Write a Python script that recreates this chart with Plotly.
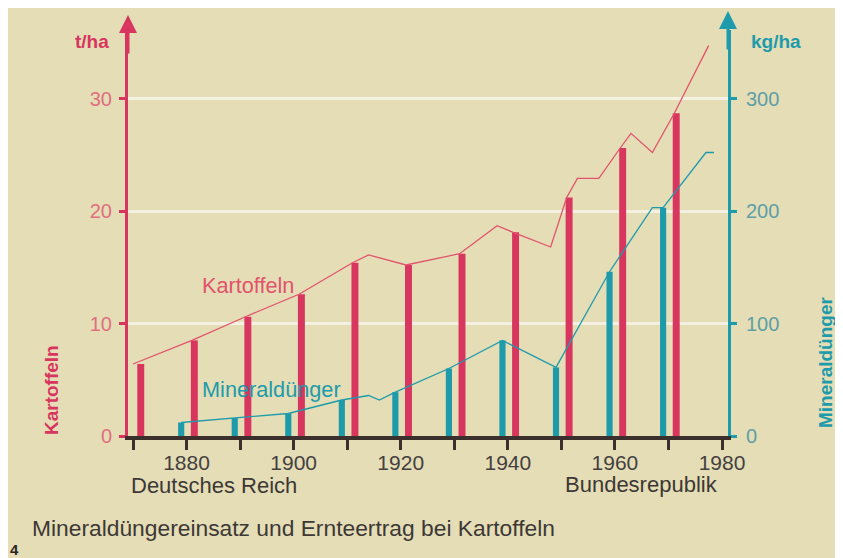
import plotly.graph_objects as go

# ---------------- data ----------------
potato_line_years = [1870, 1881, 1891, 1901, 1911, 1914, 1921, 1931, 1938, 1941,
                     1948, 1951, 1953, 1957, 1961, 1963, 1967, 1971, 1977.5]
potato_line_vals = [6.4, 8.5, 10.6, 12.6, 15.4, 16.1, 15.2, 16.2, 18.7, 18.1,
                    16.8, 21.2, 22.9, 22.9, 25.6, 26.9, 25.2, 28.6, 34.7]

potato_bar_years = [1871, 1881, 1891, 1901, 1911, 1921, 1931, 1941, 1951, 1961, 1971]
potato_bar_vals = [6.4, 8.5, 10.6, 12.6, 15.4, 15.2, 16.2, 18.1, 21.2, 25.6, 28.7]

fert_line_years = [1879, 1889, 1899, 1909, 1914, 1916, 1919, 1929, 1939, 1949,
                   1959, 1967, 1969, 1977, 1978.5]
fert_line_vals = [12, 16, 20, 32, 36, 32, 39, 60, 85, 61, 146, 203, 203, 252, 252]

fert_bar_years = [1879, 1889, 1899, 1909, 1919, 1929, 1939, 1949, 1959, 1969]
fert_bar_vals = [12, 16, 20, 32, 39, 60, 85, 61, 146, 203]

x_ticks = [1870, 1880, 1890, 1900, 1910, 1920, 1930, 1940, 1950, 1960, 1970, 1980]
x_tick_labels = ["", "1880", "", "1900", "", "1920", "", "1940", "", "1960", "", "1980"]
y_left_ticks = [0, 10, 20, 30]
y_right_ticks = [0, 100, 200, 300]

# ---------------- style ----------------
OFF = 8                      # page body margin (px)
W, H = 843 - OFF, 558 - OFF
BG = "#e4ddb6"
PINK = "#d8365f"
PINK_LINE = "#e2536c"
PINK_TXT = "#e06f82"
TEAL = "#1e9bab"
TEAL_TXT = "#5e9fa6"
DARK = "#3b302c"
TXT = "#3d3835"
FONT = "Liberation Sans"


def px(x):
    """screen pixel x -> paper fraction"""
    return (x - OFF) / W


def py(y):
    """screen pixel y -> paper fraction"""
    return 1 - (y - OFF) / H


AX_L, AX_R = 128, 728          # screen pixel positions of the two y axes
Y0_PX, YTOP_PX = 436, 30       # screen pixel of value 0 and top of plot area
PX_PER_YEAR = 5.3545
X1870_PX = 133
PX_PER_UNIT = 11.25

x_range = [1870 - (X1870_PX - AX_L) / PX_PER_YEAR, 1870 + (AX_R - X1870_PX) / PX_PER_YEAR]
y_top = (Y0_PX - YTOP_PX) / PX_PER_UNIT

fig = go.Figure()

fig.add_trace(go.Bar(x=potato_bar_years, y=potato_bar_vals, width=1.3, offset=-0.2,
                     marker=dict(color=PINK, line=dict(width=0)), yaxis="y",
                     showlegend=False, hoverinfo="skip"))
fig.add_trace(go.Bar(x=fert_bar_years, y=fert_bar_vals, width=1.15,
                     marker=dict(color=TEAL, line=dict(width=0)), yaxis="y2",
                     showlegend=False, hoverinfo="skip"))
fig.add_trace(go.Scatter(x=potato_line_years, y=potato_line_vals, mode="lines",
                         line=dict(color=PINK_LINE, width=1.3), yaxis="y",
                         showlegend=False, hoverinfo="skip"))
fig.add_trace(go.Scatter(x=fert_line_years, y=fert_line_vals, mode="lines",
                         line=dict(color=TEAL, width=1.3), yaxis="y2",
                         showlegend=False, hoverinfo="skip"))

dom_x = [px(AX_L), px(AX_R)]
dom_y = [py(Y0_PX), py(YTOP_PX)]

fig.update_layout(
    template="none",
    width=W, height=H, autosize=False,
    margin=dict(l=0, r=0, t=0, b=0, pad=0),
    paper_bgcolor=BG, plot_bgcolor="rgba(0,0,0,0)",
    barmode="overlay",
    font=dict(family=FONT),
    xaxis=dict(domain=dom_x, range=x_range, tickmode="array", tickvals=x_ticks,
               ticktext=x_tick_labels, ticks="outside", ticklen=10, tickwidth=3,
               tickcolor=DARK, showline=True, linecolor=DARK, linewidth=4,
               showgrid=False, zeroline=False, ticklabelstandoff=-5, automargin=False,
               tickfont=dict(size=21, color="#454040"), fixedrange=True),
    yaxis=dict(domain=dom_y, range=[0, y_top], tickmode="array", tickvals=y_left_ticks,
               ticks="outside", ticklen=6, tickwidth=3, tickcolor=PINK,
               showline=True, linecolor=PINK, linewidth=3, automargin=False,
               showgrid=True, gridcolor="#f4f0e2", gridwidth=2.5, zeroline=False,
               tickfont=dict(size=20, color=PINK_TXT), ticklabelstandoff=3,
               fixedrange=True),
    yaxis2=dict(domain=dom_y, range=[0, y_top * 10], overlaying="y", side="right",
                anchor="x", tickmode="array", tickvals=y_right_ticks,
                ticks="outside", ticklen=6, tickwidth=3, tickcolor=TEAL,
                showline=True, linecolor=TEAL, linewidth=3, showgrid=False,
                zeroline=False, tickfont=dict(size=20, color=TEAL_TXT),
                automargin=False, ticklabelstandoff=5, fixedrange=True),
)

ann = []


def label(x, y, text, size, color, **kw):
    d = dict(xref="paper", yref="paper", x=px(x), y=py(y), text=text, showarrow=False,
             xanchor="center", yanchor="middle", font=dict(size=size, color=color))
    d.update(kw)
    ann.append(d)


# axis arrows
ann.append(dict(xref="paper", yref="paper", x=px(AX_L), y=py(15), ax=0, ay=40,
                showarrow=True, arrowhead=2, arrowsize=1.2, arrowwidth=3,
                arrowcolor=PINK, text=""))
ann.append(dict(xref="paper", yref="paper", x=px(AX_R), y=py(11), ax=0, ay=40,
                showarrow=True, arrowhead=2, arrowsize=1.2, arrowwidth=3,
                arrowcolor=TEAL, text=""))
# unit labels
label(92, 42, "<b>t/ha</b>", 19, PINK)
label(776, 42, "<b>kg/ha</b>", 19, TEAL)
# vertical axis titles
label(51, 390, "<b>Kartoffeln</b>", 19, PINK, textangle=-90)
label(825, 362, "<b>Mineraldünger</b>", 19, TEAL, textangle=-90)
# series labels inside plot
ann.append(dict(xref="x", yref="y", x=1891.4, y=13.4, text="Kartoffeln",
                xanchor="center", yanchor="middle",
                showarrow=False, font=dict(size=21.7, color=PINK_LINE)))
ann.append(dict(xref="x", yref="y", x=1895.9, y=4.1, text="Mineraldünger",
                xanchor="center", yanchor="middle",
                showarrow=False, font=dict(size=21.7, color=TEAL)))
# region labels
label(214, 485, "Deutsches Reich", 22, TXT)
label(641, 484, "Bundesrepublik", 22, TXT)
# caption
label(30, 528, "Mineraldüngereinsatz und Ernteertrag bei Kartoffeln", 22.8, TXT,
      xanchor="left")
label(14, 549, "<b>4</b>", 15, "#2a2523")
fig.update_layout(annotations=ann)

fig.write_html("out.html")
